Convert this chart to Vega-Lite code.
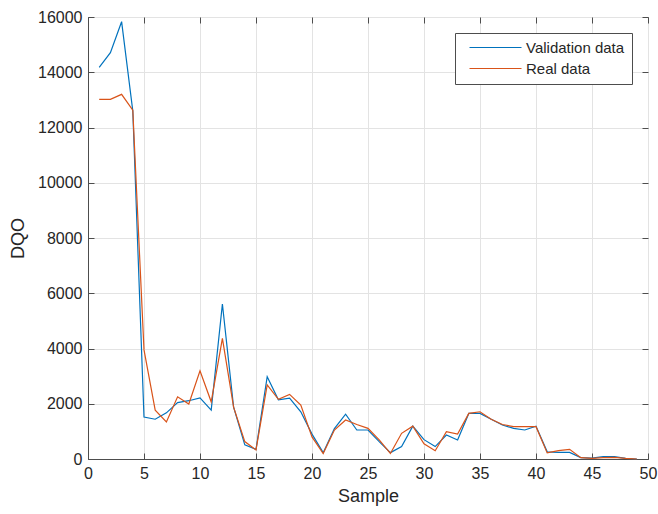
{
  "$schema": "https://vega.github.io/schema/vega-lite/v6.json",
  "width": 560,
  "height": 442,
  "autosize": {"type": "none"},
  "padding": {"left": 88, "top": 17, "right": 10, "bottom": 55},
  "background": "white",
  "config": {
    "font": "Liberation Sans",
    "view": {"stroke": "#4d4d4d", "strokeWidth": 1},
    "axis": {
      "gridColor": "#e3e3e3",
      "gridWidth": 1,
      "domainColor": "#4d4d4d",
      "tickColor": "#4d4d4d",
      "labelColor": "#262626",
      "titleColor": "#262626",
      "labelFontSize": 16,
      "titleFontSize": 18,
      "titleFontWeight": "normal",
      "labelFont": "Liberation Sans",
      "titleFont": "Liberation Sans"
    }
  },
  "data": {
    "values": [
      {"sample": 1, "series": "Validation data", "value": 14180},
      {"sample": 2, "series": "Validation data", "value": 14710},
      {"sample": 3, "series": "Validation data", "value": 15830},
      {"sample": 4, "series": "Validation data", "value": 12600},
      {"sample": 5, "series": "Validation data", "value": 1520},
      {"sample": 6, "series": "Validation data", "value": 1440},
      {"sample": 7, "series": "Validation data", "value": 1670},
      {"sample": 8, "series": "Validation data", "value": 2040},
      {"sample": 9, "series": "Validation data", "value": 2110},
      {"sample": 10, "series": "Validation data", "value": 2210},
      {"sample": 11, "series": "Validation data", "value": 1770},
      {"sample": 12, "series": "Validation data", "value": 5610},
      {"sample": 13, "series": "Validation data", "value": 1880},
      {"sample": 14, "series": "Validation data", "value": 510},
      {"sample": 15, "series": "Validation data", "value": 350},
      {"sample": 16, "series": "Validation data", "value": 2980},
      {"sample": 17, "series": "Validation data", "value": 2140},
      {"sample": 18, "series": "Validation data", "value": 2200},
      {"sample": 19, "series": "Validation data", "value": 1710},
      {"sample": 20, "series": "Validation data", "value": 900},
      {"sample": 21, "series": "Validation data", "value": 230},
      {"sample": 22, "series": "Validation data", "value": 1100},
      {"sample": 23, "series": "Validation data", "value": 1620},
      {"sample": 24, "series": "Validation data", "value": 1050},
      {"sample": 25, "series": "Validation data", "value": 1050},
      {"sample": 26, "series": "Validation data", "value": 630},
      {"sample": 27, "series": "Validation data", "value": 230},
      {"sample": 28, "series": "Validation data", "value": 450},
      {"sample": 29, "series": "Validation data", "value": 1190},
      {"sample": 30, "series": "Validation data", "value": 700},
      {"sample": 31, "series": "Validation data", "value": 450},
      {"sample": 32, "series": "Validation data", "value": 870},
      {"sample": 33, "series": "Validation data", "value": 690},
      {"sample": 34, "series": "Validation data", "value": 1650},
      {"sample": 35, "series": "Validation data", "value": 1650},
      {"sample": 36, "series": "Validation data", "value": 1440},
      {"sample": 37, "series": "Validation data", "value": 1230},
      {"sample": 38, "series": "Validation data", "value": 1110},
      {"sample": 39, "series": "Validation data", "value": 1050},
      {"sample": 40, "series": "Validation data", "value": 1190},
      {"sample": 41, "series": "Validation data", "value": 260},
      {"sample": 42, "series": "Validation data", "value": 240},
      {"sample": 43, "series": "Validation data", "value": 240},
      {"sample": 44, "series": "Validation data", "value": 50},
      {"sample": 45, "series": "Validation data", "value": 30},
      {"sample": 46, "series": "Validation data", "value": 85},
      {"sample": 47, "series": "Validation data", "value": 85},
      {"sample": 48, "series": "Validation data", "value": 25},
      {"sample": 49, "series": "Validation data", "value": 0},
      {"sample": 1, "series": "Real data", "value": 13020},
      {"sample": 2, "series": "Real data", "value": 13020},
      {"sample": 3, "series": "Real data", "value": 13200},
      {"sample": 4, "series": "Real data", "value": 12630},
      {"sample": 5, "series": "Real data", "value": 3950},
      {"sample": 6, "series": "Real data", "value": 1770},
      {"sample": 7, "series": "Real data", "value": 1340},
      {"sample": 8, "series": "Real data", "value": 2250},
      {"sample": 9, "series": "Real data", "value": 1990},
      {"sample": 10, "series": "Real data", "value": 3190},
      {"sample": 11, "series": "Real data", "value": 2070},
      {"sample": 12, "series": "Real data", "value": 4370},
      {"sample": 13, "series": "Real data", "value": 1880},
      {"sample": 14, "series": "Real data", "value": 630},
      {"sample": 15, "series": "Real data", "value": 330},
      {"sample": 16, "series": "Real data", "value": 2680},
      {"sample": 17, "series": "Real data", "value": 2160},
      {"sample": 18, "series": "Real data", "value": 2340},
      {"sample": 19, "series": "Real data", "value": 1950},
      {"sample": 20, "series": "Real data", "value": 800},
      {"sample": 21, "series": "Real data", "value": 200},
      {"sample": 22, "series": "Real data", "value": 1050},
      {"sample": 23, "series": "Real data", "value": 1410},
      {"sample": 24, "series": "Real data", "value": 1250},
      {"sample": 25, "series": "Real data", "value": 1110},
      {"sample": 26, "series": "Real data", "value": 690},
      {"sample": 27, "series": "Real data", "value": 200},
      {"sample": 28, "series": "Real data", "value": 930},
      {"sample": 29, "series": "Real data", "value": 1190},
      {"sample": 30, "series": "Real data", "value": 550},
      {"sample": 31, "series": "Real data", "value": 300},
      {"sample": 32, "series": "Real data", "value": 990},
      {"sample": 33, "series": "Real data", "value": 900},
      {"sample": 34, "series": "Real data", "value": 1650},
      {"sample": 35, "series": "Real data", "value": 1710},
      {"sample": 36, "series": "Real data", "value": 1440},
      {"sample": 37, "series": "Real data", "value": 1250},
      {"sample": 38, "series": "Real data", "value": 1170},
      {"sample": 39, "series": "Real data", "value": 1170},
      {"sample": 40, "series": "Real data", "value": 1170},
      {"sample": 41, "series": "Real data", "value": 220},
      {"sample": 42, "series": "Real data", "value": 300},
      {"sample": 43, "series": "Real data", "value": 350},
      {"sample": 44, "series": "Real data", "value": 50},
      {"sample": 45, "series": "Real data", "value": 25},
      {"sample": 46, "series": "Real data", "value": 50},
      {"sample": 47, "series": "Real data", "value": 60},
      {"sample": 48, "series": "Real data", "value": 25},
      {"sample": 49, "series": "Real data", "value": 0}
    ]
  },
  "resolve": {"axis": {"x": "independent", "y": "independent"}},
  "layer": [
    {
      "mark": {"type": "line", "strokeWidth": 1.2},
      "encoding": {
        "x": {
          "field": "sample", "type": "quantitative", "title": "Sample",
          "scale": {"domain": [0, 50], "nice": false},
          "axis": {"values": [0,5,10,15,20,25,30,35,40,45,50], "tickSize": -6, "labelPadding": 12, "titlePadding": 6, "labelFlush": false}
        },
        "y": {
          "field": "value", "type": "quantitative", "title": "DQO",
          "scale": {"domain": [0, 16000], "nice": false},
          "axis": {"values": [0,2000,4000,6000,8000,10000,12000,14000,16000], "tickSize": -6, "labelPadding": 12, "titlePadding": 10, "format": "d", "labelFlush": false}
        },
        "color": {
          "field": "series", "type": "nominal",
          "scale": {"domain": ["Validation data", "Real data"], "range": ["#0072BD", "#D95319"]},
          "legend": {
            "title": null, "orient": "none", "legendX": 367, "legendY": 16,
            "symbolType": "M-4,0H4", "symbolSize": 169, "symbolStrokeWidth": 1.2,
            "symbolOffset": 26,
            "labelFontSize": 15, "labelColor": "#262626", "labelFont": "Liberation Sans",
            "strokeColor": "#4d4d4d", "fillColor": "white", "padding": 7,
            "rowPadding": 5, "labelOffset": 23
          }
        }
      }
    },
    {
      "mark": {"type": "line", "opacity": 0},
      "encoding": {
        "x": {
          "field": "sample", "type": "quantitative",
          "axis": {"orient": "top", "values": [0,5,10,15,20,25,30,35,40,45,50], "labels": false, "title": null, "grid": false, "domain": false, "tickSize": -6}
        },
        "y": {
          "field": "value", "type": "quantitative",
          "axis": {"orient": "right", "values": [0,2000,4000,6000,8000,10000,12000,14000,16000], "labels": false, "title": null, "grid": false, "domain": false, "tickSize": -6}
        }
      }
    }
  ]
}
